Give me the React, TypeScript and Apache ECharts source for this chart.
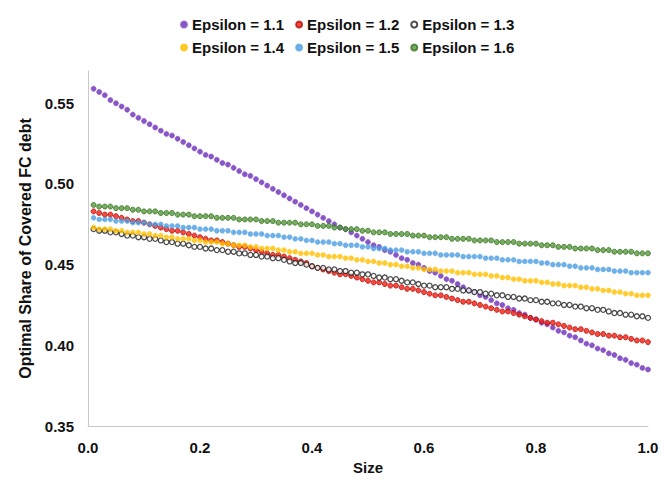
import React, { useEffect, useRef } from "react";
import * as echarts from "echarts";

const sizes = [
  0.01, 0.02, 0.03, 0.04, 0.05, 0.06, 0.07, 0.08, 0.09, 0.1,
  0.11, 0.12, 0.13, 0.14, 0.15, 0.16, 0.17, 0.18, 0.19, 0.2,
  0.21, 0.22, 0.23, 0.24, 0.25, 0.26, 0.27, 0.28, 0.29, 0.3,
  0.31, 0.32, 0.33, 0.34, 0.35, 0.36, 0.37, 0.38, 0.39, 0.4,
  0.41, 0.42, 0.43, 0.44, 0.45, 0.46, 0.47, 0.48, 0.49, 0.5,
  0.51, 0.52, 0.53, 0.54, 0.55, 0.56, 0.57, 0.58, 0.59, 0.6,
  0.61, 0.62, 0.63, 0.64, 0.65, 0.66, 0.67, 0.68, 0.69, 0.7,
  0.71, 0.72, 0.73, 0.74, 0.75, 0.76, 0.77, 0.78, 0.79, 0.8,
  0.81, 0.82, 0.83, 0.84, 0.85, 0.86, 0.87, 0.88, 0.89, 0.9,
  0.91, 0.92, 0.93, 0.94, 0.95, 0.96, 0.97, 0.98, 0.99, 1.0,
];

const eps11 = [
  0.559, 0.557, 0.555, 0.552, 0.550, 0.548, 0.546, 0.543, 0.541, 0.539,
  0.537, 0.535, 0.533, 0.531, 0.530, 0.528, 0.526, 0.524, 0.522, 0.520,
  0.518, 0.517, 0.515, 0.513, 0.512, 0.510, 0.508, 0.506, 0.505, 0.503,
  0.501, 0.499, 0.497, 0.495, 0.493, 0.491, 0.489, 0.487, 0.485, 0.483,
  0.481, 0.479, 0.477, 0.475, 0.473, 0.472, 0.470, 0.468, 0.466, 0.464,
  0.462, 0.461, 0.459, 0.458, 0.456, 0.454, 0.453, 0.451, 0.450, 0.448,
  0.446, 0.445, 0.443, 0.441, 0.440, 0.438, 0.436, 0.434, 0.433, 0.431,
  0.430, 0.428, 0.426, 0.425, 0.423, 0.422, 0.420, 0.419, 0.417, 0.416,
  0.414, 0.413, 0.411, 0.409, 0.408, 0.406, 0.405, 0.403, 0.401, 0.400,
  0.398, 0.397, 0.395, 0.394, 0.392, 0.391, 0.389, 0.388, 0.386, 0.385,
];

const eps12 = [
  0.483, 0.482, 0.481, 0.481, 0.480, 0.479, 0.478, 0.477, 0.477, 0.476,
  0.475, 0.474, 0.473, 0.472, 0.471, 0.471, 0.470, 0.469, 0.468, 0.467,
  0.466, 0.465, 0.465, 0.464, 0.463, 0.462, 0.461, 0.461, 0.460, 0.459,
  0.458, 0.457, 0.456, 0.456, 0.455, 0.454, 0.453, 0.452, 0.451, 0.449,
  0.448, 0.447, 0.446, 0.445, 0.444, 0.444, 0.443, 0.442, 0.441, 0.440,
  0.439, 0.439, 0.438, 0.437, 0.437, 0.436, 0.435, 0.435, 0.434, 0.433,
  0.432, 0.431, 0.431, 0.430, 0.429, 0.428, 0.427, 0.427, 0.426, 0.425,
  0.424, 0.423, 0.422, 0.421, 0.421, 0.420, 0.419, 0.418, 0.417, 0.416,
  0.415, 0.414, 0.414, 0.413, 0.412, 0.411, 0.410, 0.410, 0.409, 0.408,
  0.407, 0.407, 0.406, 0.406, 0.405, 0.405, 0.404, 0.403, 0.403, 0.402,
];

const eps13 = [
  0.472, 0.471, 0.471, 0.470, 0.470, 0.469, 0.468, 0.468, 0.467, 0.467,
  0.466, 0.466, 0.465, 0.464, 0.464, 0.463, 0.463, 0.462, 0.461, 0.461,
  0.460, 0.460, 0.459, 0.459, 0.458, 0.458, 0.457, 0.457, 0.456, 0.456,
  0.455, 0.455, 0.454, 0.454, 0.453, 0.452, 0.451, 0.451, 0.450, 0.449,
  0.448, 0.448, 0.447, 0.447, 0.446, 0.446, 0.445, 0.445, 0.444, 0.444,
  0.443, 0.442, 0.442, 0.441, 0.441, 0.440, 0.439, 0.439, 0.438, 0.437,
  0.437, 0.436, 0.436, 0.436, 0.435, 0.435, 0.434, 0.434, 0.433, 0.433,
  0.432, 0.432, 0.431, 0.431, 0.430, 0.430, 0.429, 0.429, 0.428, 0.428,
  0.427, 0.427, 0.426, 0.426, 0.425, 0.425, 0.424, 0.424, 0.423, 0.423,
  0.422, 0.422, 0.421, 0.420, 0.420, 0.419, 0.419, 0.418, 0.418, 0.417,
];

const eps14 = [
  0.473, 0.472, 0.472, 0.472, 0.471, 0.471, 0.470, 0.470, 0.470, 0.469,
  0.469, 0.468, 0.468, 0.467, 0.467, 0.466, 0.466, 0.466, 0.465, 0.465,
  0.464, 0.464, 0.464, 0.463, 0.463, 0.462, 0.462, 0.462, 0.461, 0.461,
  0.460, 0.460, 0.460, 0.459, 0.459, 0.458, 0.458, 0.457, 0.457, 0.457,
  0.456, 0.456, 0.455, 0.455, 0.455, 0.454, 0.454, 0.453, 0.453, 0.452,
  0.452, 0.451, 0.451, 0.450, 0.450, 0.449, 0.449, 0.448, 0.448, 0.447,
  0.447, 0.447, 0.446, 0.446, 0.446, 0.445, 0.445, 0.445, 0.444, 0.444,
  0.444, 0.443, 0.443, 0.442, 0.442, 0.441, 0.441, 0.440, 0.440, 0.440,
  0.439, 0.439, 0.438, 0.438, 0.437, 0.437, 0.437, 0.436, 0.436, 0.435,
  0.435, 0.434, 0.434, 0.433, 0.433, 0.432, 0.432, 0.431, 0.431, 0.431,
];

const eps15 = [
  0.479, 0.478, 0.478, 0.478, 0.477, 0.477, 0.477, 0.476, 0.476, 0.476,
  0.475, 0.475, 0.475, 0.474, 0.474, 0.474, 0.473, 0.473, 0.473, 0.472,
  0.472, 0.472, 0.471, 0.471, 0.471, 0.470, 0.470, 0.470, 0.469, 0.469,
  0.469, 0.468, 0.468, 0.468, 0.467, 0.467, 0.466, 0.466, 0.465, 0.465,
  0.464, 0.464, 0.464, 0.463, 0.463, 0.462, 0.462, 0.462, 0.461, 0.461,
  0.460, 0.460, 0.460, 0.459, 0.459, 0.459, 0.458, 0.458, 0.458, 0.457,
  0.457, 0.457, 0.456, 0.456, 0.456, 0.456, 0.455, 0.455, 0.455, 0.455,
  0.454, 0.454, 0.454, 0.453, 0.453, 0.453, 0.452, 0.452, 0.452, 0.452,
  0.451, 0.451, 0.450, 0.450, 0.450, 0.449, 0.449, 0.448, 0.448, 0.448,
  0.447, 0.447, 0.447, 0.446, 0.446, 0.446, 0.445, 0.445, 0.445, 0.445,
];

const eps16 = [
  0.487, 0.486, 0.486, 0.486, 0.485, 0.485, 0.485, 0.484, 0.484, 0.483,
  0.483, 0.483, 0.482, 0.482, 0.482, 0.481, 0.481, 0.481, 0.480, 0.480,
  0.480, 0.480, 0.479, 0.479, 0.479, 0.479, 0.478, 0.478, 0.478, 0.478,
  0.477, 0.477, 0.477, 0.476, 0.476, 0.476, 0.476, 0.475, 0.475, 0.475,
  0.474, 0.474, 0.474, 0.473, 0.473, 0.472, 0.472, 0.472, 0.471, 0.471,
  0.470, 0.470, 0.470, 0.469, 0.469, 0.469, 0.469, 0.468, 0.468, 0.468,
  0.467, 0.467, 0.467, 0.467, 0.466, 0.466, 0.466, 0.466, 0.465, 0.465,
  0.465, 0.465, 0.464, 0.464, 0.464, 0.464, 0.463, 0.463, 0.463, 0.463,
  0.462, 0.462, 0.462, 0.461, 0.461, 0.461, 0.460, 0.460, 0.460, 0.460,
  0.459, 0.459, 0.459, 0.458, 0.458, 0.458, 0.458, 0.457, 0.457, 0.457,
];

const seriesNames = [
  "Epsilon = 1.1",
  "Epsilon = 1.2",
  "Epsilon = 1.3",
  "Epsilon = 1.4",
  "Epsilon = 1.5",
  "Epsilon = 1.6",
];
const seriesValues = [eps11, eps12, eps13, eps14, eps15, eps16];

const yTicks = [0.35, 0.4, 0.45, 0.5, 0.55];
const xTicks = [0.0, 0.2, 0.4, 0.6, 0.8, 1.0];

const FONT = "'Liberation Sans', Arial, Helvetica, sans-serif";

const markerStyles = [
  { color: "#6C2CBA", borderColor: "#8450C8", borderWidth: 0.8 },
  { color: "#F41E12", borderColor: "#B80E06", borderWidth: 1 },
  { color: "#FFFFFF", borderColor: "#1E1E1E", borderWidth: 1.3 },
  { color: "#FFC000", borderColor: "#FFC000", borderWidth: 0.5 },
  { color: "#4A9CE2", borderColor: "#5AA4E4", borderWidth: 0.5 },
  { color: "#58993C", borderColor: "#35741F", borderWidth: 1 },
];

export default function App() {
  const ref = useRef<HTMLDivElement>(null);

  useEffect(() => {
    if (!ref.current) return;
    const chart = echarts.init(ref.current, undefined, { renderer: "svg" });

    const legendBase = {
      left: 175,
      orient: "horizontal" as const,
      icon: "circle",
      itemWidth: 6,
      itemHeight: 6,
      itemGap: 11,
      textStyle: {
        fontFamily: FONT,
        fontWeight: "bold" as const,
        fontSize: 15,
        color: "#111",
      },
    };

    chart.setOption({
      animation: false,
      backgroundColor: "#ffffff",
      legend: [
        { ...legendBase, top: 12, data: seriesNames.slice(0, 3) },
        { ...legendBase, top: 35, data: seriesNames.slice(3, 6) },
      ],
      grid: {
        left: 88,
        right: 17,
        top: 71,
        bottom: 65,
        containLabel: false,
      },
      xAxis: {
        type: "value",
        min: xTicks[0],
        max: xTicks[xTicks.length - 1],
        interval: 0.2,
        name: "Size",
        nameLocation: "middle",
        nameGap: 32,
        nameTextStyle: {
          fontFamily: FONT,
          fontWeight: "bold",
          fontSize: 15,
          color: "#111",
        },
        axisLine: { show: true, lineStyle: { color: "#C8C8C8", width: 1 } },
        axisTick: { show: false },
        splitLine: { show: false },
        axisLabel: {
          fontFamily: FONT,
          fontWeight: "bold",
          fontSize: 15,
          color: "#111",
          margin: 14,
          formatter: (v: number) => v.toFixed(1),
        },
      },
      yAxis: {
        type: "value",
        min: yTicks[0],
        max: 0.57,
        interval: 0.05,
        name: "Optimal Share of Covered FC debt",
        nameLocation: "middle",
        nameGap: 48,
        nameTextStyle: {
          fontFamily: FONT,
          fontWeight: "bold",
          fontSize: 16,
          color: "#111",
        },
        axisLine: { show: true, lineStyle: { color: "#C8C8C8", width: 1 } },
        axisTick: { show: false },
        splitLine: { show: false },
        axisLabel: {
          fontFamily: FONT,
          fontWeight: "bold",
          fontSize: 15,
          color: "#111",
          margin: 14,
          showMaxLabel: false,
          formatter: (v: number) => v.toFixed(2),
        },
      },
      series: seriesNames.map((name, i) => ({
        name,
        type: "scatter",
        symbol: "circle",
        symbolSize: 5,
        itemStyle: markerStyles[i],
        data: sizes.map((x, j) => [x, seriesValues[i][j]]),
      })),
    });

    return () => chart.dispose();
  }, []);

  return (
    <div
      ref={ref}
      style={{ position: "fixed", left: 0, top: 0, width: 665, height: 491 }}
    />
  );
}
